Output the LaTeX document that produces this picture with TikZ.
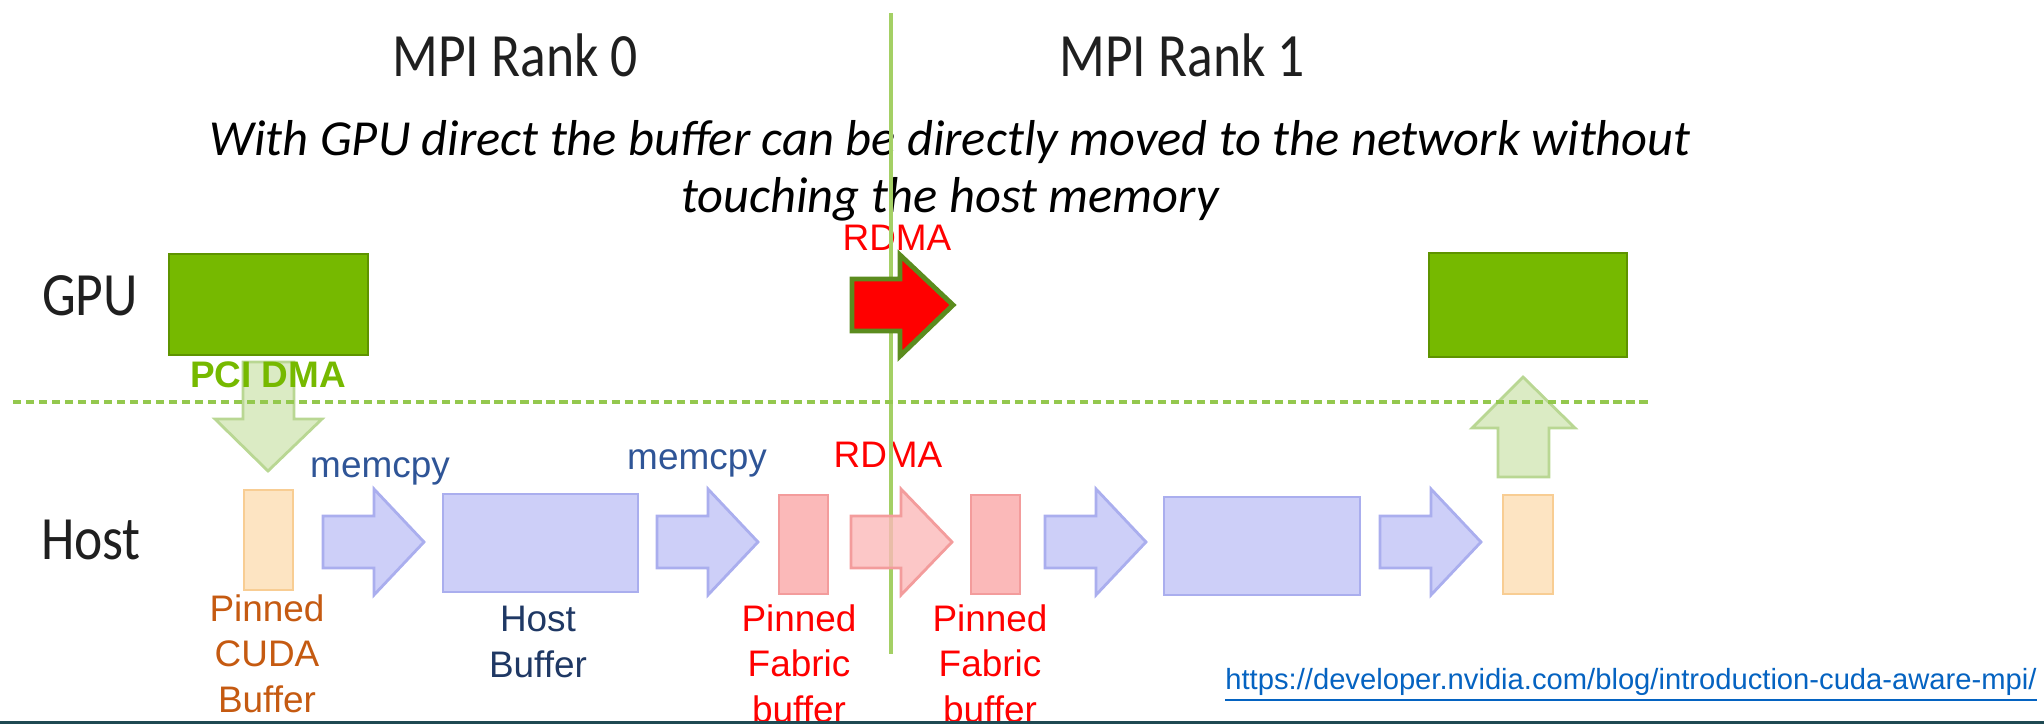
\documentclass[tikz,border=0pt]{standalone}
\usepackage{fontspec}
\setmainfont{Liberation Sans}
\newfontfamily\rankfont[FakeStretch=0.87]{Carlito}
\newfontfamily\notefont{Carlito}
\usetikzlibrary{fit}
\definecolor{nvgreen}{HTML}{76B900}
\definecolor{nvedge}{HTML}{5E9300}
\definecolor{paleline}{HTML}{A4D065}
\definecolor{dashgreen}{HTML}{94C84E}
\definecolor{pcifill}{HTML}{DBEBC4}
\definecolor{pciedge}{HTML}{B9D793}
\definecolor{bluefill}{HTML}{CDCFF8}
\definecolor{blueedge}{HTML}{AAAEEE}
\definecolor{pinkfill}{HTML}{FBB9B9}
\definecolor{pinkedge}{HTML}{F39C9C}
\definecolor{peachfill}{HTML}{FDE4C2}
\definecolor{peachedge}{HTML}{F8CD93}
\definecolor{memblue}{HTML}{2F5597}
\definecolor{navy}{HTML}{1F3864}
\definecolor{rust}{HTML}{C55A11}
\definecolor{linkblue}{HTML}{0563C1}
\definecolor{barteal}{HTML}{1F4952}
\definecolor{arrowedge}{HTML}{5B8C1E}
\tikzset{
  ranklabel/.style={font=\rankfont\fontsize{17.5}{20}\selectfont, text=black!88, anchor=base, inner sep=0pt},
  tag/.style={font=\fontsize{10.5}{12.8}\selectfont, anchor=base, inner sep=0pt, align=center},
  boldtag/.style={tag, font=\fontsize{10.5}{12.8}\selectfont\bfseries},
  buf/.style={inner sep=0pt, line width=0.8pt},
  gpubuf/.style={buf, draw=nvedge, fill=nvgreen},
  hostbuf/.style={buf, draw=blueedge, fill=bluefill},
  fabbuf/.style={buf, draw=pinkedge, fill=pinkfill},
  cudabuf/.style={buf, draw=peachedge, fill=peachfill},
  fat/.style={line width=0.8pt, line join=miter},
}
\begin{document}
\begin{tikzpicture}[x=0.01cm, y=-0.01cm]
\useasboundingbox (0,0) rectangle (2044,724);
\node[ranklabel] (rank0) at (515,76) {MPI Rank 0};
\node[ranklabel] (rank1) at (1182,76) {MPI Rank 1};
\node[anchor=base, inner sep=0pt, align=center, font=\notefont\itshape\fontsize{14.35}{16.2}\selectfont] (note) at (950,212) {With GPU direct the buffer can be directly moved to the network without\\touching the host memory};
\node[ranklabel] (gpulbl) at (90,315) {GPU};
\node[ranklabel] (hostlbl) at (91,559) {Host};
\node[tag, text=red] (rdmatop) at (897,250) {RDMA};
\node[tag, text=red] (rdmalow) at (888,467) {RDMA};
\draw[paleline, line width=1.1pt] (891,13) -- (891,654);
\node[gpubuf, fit={(169,254) (368,355)}] (gpu0) {};
\node[gpubuf, fit={(1429,253) (1627,357)}] (gpu1) {};
\node[cudabuf, fit={(244,490) (293,590)}] (cuda0) {};
\node[hostbuf, fit={(443,494) (638,592)}] (hbuf0) {};
\node[fabbuf, fit={(779,495) (828,594)}] (fab0) {};
\node[fabbuf, fit={(971,495) (1020,594)}] (fab1) {};
\node[hostbuf, fit={(1164,497) (1360,595)}] (hbuf1) {};
\node[cudabuf, fit={(1503,495) (1553,594)}] (cuda1) {};
\draw[line width=1.4pt, line join=miter, draw=arrowedge, fill=red] (852,279) -- (900,279) -- (900,255) -- (953,305) -- (900,356) -- (900,331) -- (852,331) -- cycle;
\draw[fat, draw=pciedge, fill=pcifill] (243,362) -- (243,419) -- (215,419) -- (268,471) -- (322,419) -- (294,419) -- (294,362) -- cycle;
\draw[fat, draw=pciedge, fill=pcifill] (1498,477) -- (1498,428) -- (1472,428) -- (1523,377) -- (1575,428) -- (1549,428) -- (1549,477) -- cycle;
\foreach \x in {323,657,1045,1380}
  \draw[fat, draw=blueedge, fill=bluefill] (\x,516) -- ++(51,0) -- ++(0,-27) -- ++(50,53) -- ++(-50,53) -- ++(0,-27) -- ++(-51,0) -- cycle;
\draw[fat, draw=pinkedge, fill=pinkfill, fill opacity=0.8] (851,516) -- ++(50,0) -- ++(0,-27) -- ++(51,53) -- ++(-51,53) -- ++(0,-27) -- ++(-50,0) -- cycle;
\draw[dashgreen, line width=1.2pt, dash pattern=on 2.3pt off 1.4pt] (13,402) -- (1650,402);
\node[boldtag, text=nvgreen] (pcidma) at (268,387) {PCI DMA};
\node[tag, text=memblue] (copy0) at (380,477) {memcpy};
\node[tag, text=memblue] (copy1) at (697,469) {memcpy};
\node[tag, text=rust] (cudalbl) at (267,712) {Pinned\\CUDA\\Buffer};
\node[tag, text=navy] (hostbuflbl) at (538,677) {Host\\Buffer};
\node[tag, text=red] (fablbl0) at (799,722) {Pinned\\Fabric\\buffer};
\node[tag, text=red] (fablbl1) at (990,722) {Pinned\\Fabric\\buffer};
\node[anchor=base, inner sep=0pt, font=\fontsize{8.3}{10}\selectfont, text=linkblue] (url) at (1631,689) {\underline{https://developer.nvidia.com/blog/introduction-cuda-aware-mpi/}};
\fill[barteal] (0,721) rectangle (2044,730);
\end{tikzpicture}
\end{document}
